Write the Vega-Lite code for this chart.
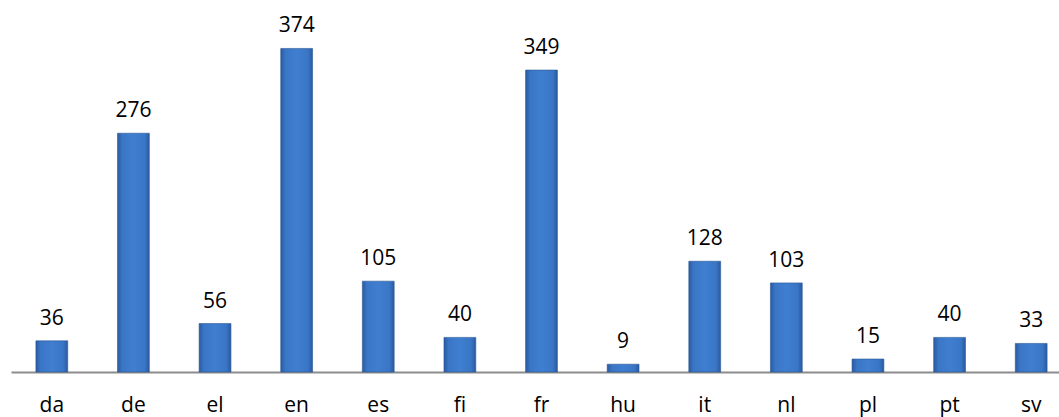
{
  "$schema": "https://vega.github.io/schema/vega-lite/v6.json",
  "autosize": "none",
  "padding": {"left": 11, "top": 0, "right": 0, "bottom": 45},
  "width": 1061,
  "height": 372,
  "background": "white",
  "config": {"view": {"stroke": null}},
  "data": {"values": [
    {"lang": "da", "count": 36},
    {"lang": "de", "count": 276},
    {"lang": "el", "count": 56},
    {"lang": "en", "count": 374},
    {"lang": "es", "count": 105},
    {"lang": "fi", "count": 40},
    {"lang": "fr", "count": 349},
    {"lang": "hu", "count": 9},
    {"lang": "it", "count": 128},
    {"lang": "nl", "count": 103},
    {"lang": "pl", "count": 15},
    {"lang": "pt", "count": 40},
    {"lang": "sv", "count": 33}
  ]},
  "encoding": {
    "x": {"field": "lang", "type": "nominal", "sort": null,
      "scale": {"paddingInner": 0.61, "paddingOuter": 0.305},
      "axis": {"title": null, "labelAngle": 0, "ticks": false, "labelPadding": 22,
        "labelFont": "Open Sans", "labelFontSize": 21, "labelColor": "#000000",
        "domainColor": "#8c8c8c", "domainWidth": 2, "grid": false}},
    "y": {"field": "count", "type": "quantitative",
      "scale": {"domain": [0, 430], "nice": false}, "axis": null}
  },
  "layer": [
    {"mark": {"type": "bar", "stroke": "#2a5796", "strokeWidth": 0.6,
      "color": {"gradient": "linear", "x1": 0, "y1": 0, "x2": 1, "y2": 0,
        "stops": [
          {"offset": 0, "color": "#2a5aa0"},
          {"offset": 0.15, "color": "#3a76c6"},
          {"offset": 0.5, "color": "#3f7ed0"},
          {"offset": 0.85, "color": "#3a76c6"},
          {"offset": 1, "color": "#2a5aa0"}
        ]}}},
    {"mark": {"type": "text", "baseline": "bottom", "dy": -12, "font": "Open Sans", "fontSize": 21, "color": "#000000"},
      "encoding": {"text": {"field": "count", "type": "quantitative"}}}
  ]
}
